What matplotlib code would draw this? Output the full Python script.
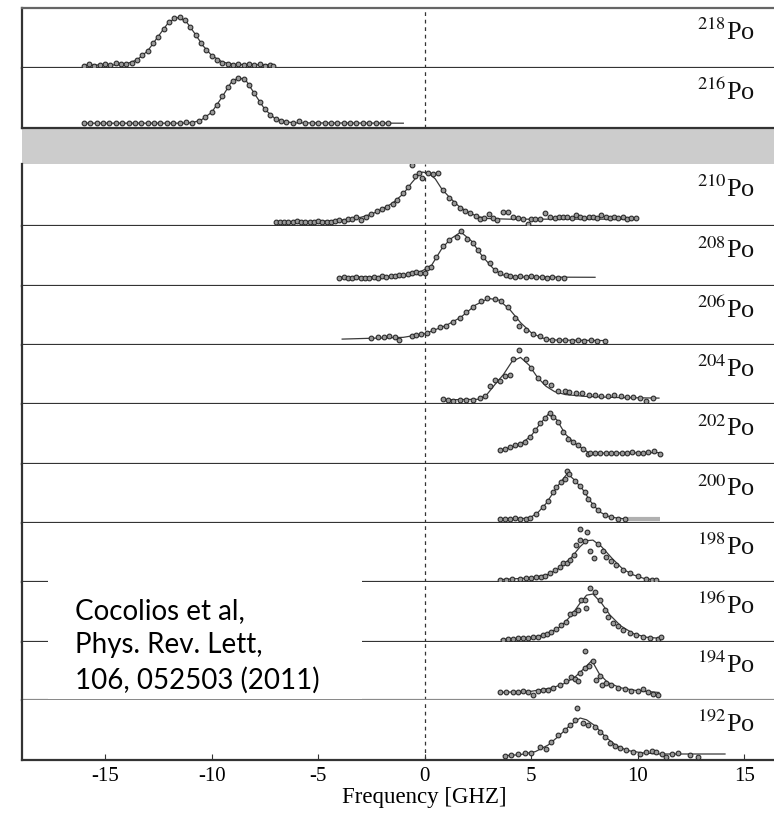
import matplotlib
matplotlib.use("Agg")
import matplotlib.pyplot as plt
from matplotlib.patches import Rectangle

plt.rcParams["font.family"] = ["Liberation Serif", "DejaVu Serif"]
plt.rcParams["mathtext.fontset"] = "stix"

# --- data (x in GHz, y as fraction of panel height) ---
isotopes = ["218", "216", "210", "208", "206", "204", "202", "200", "198", "196", "194", "192"]

po218_x = [-16.0, -15.75, -15.5, -15.25, -15.0, -14.75, -14.5, -14.25, -14.0, -13.75,
           -13.5, -13.25, -13.0, -12.75, -12.5, -12.25, -12.0, -11.75, -11.5, -11.25,
           -11.0, -10.75, -10.5, -10.25, -10.0, -9.75, -9.5, -9.25, -9.0, -8.75,
           -8.5, -8.25, -8.0, -7.75, -7.5, -7.25, -7.1]
po218_y = [0.04, 0.06, 0.04, 0.05, 0.07, 0.05, 0.08, 0.06, 0.07, 0.09,
           0.14, 0.21, 0.28, 0.41, 0.52, 0.65, 0.76, 0.83, 0.85, 0.80,
           0.69, 0.55, 0.42, 0.30, 0.20, 0.14, 0.09, 0.06, 0.05, 0.07,
           0.05, 0.06, 0.05, 0.07, 0.04, 0.05, 0.03]
po218_fit_x = [-16.0, -14.5, -14.0, -13.5, -13.0, -12.5, -12.0, -11.6, -11.2, -10.8, -10.4, -10.0, -9.5, -9.0, -7.1]
po218_fit_y = [0.05, 0.05, 0.07, 0.135, 0.285, 0.53, 0.77, 0.84, 0.78, 0.58, 0.37, 0.21, 0.10, 0.06, 0.05]

po216_x = [-16.0, -15.7, -15.4, -15.1, -14.8, -14.5, -14.2, -13.9, -13.6, -13.3,
           -13.0, -12.7, -12.4, -12.1, -11.8, -11.5, -11.2, -10.9, -10.6, -10.3,
           -10.0, -9.75, -9.5, -9.25, -9.0, -8.75, -8.5, -8.25, -8.0, -7.75,
           -7.5, -7.25, -7.0, -6.75, -6.5, -6.2, -5.9, -5.6, -5.3, -5.0,
           -4.7, -4.4, -4.1, -3.8, -3.5, -3.2, -2.9, -2.6, -2.3, -2.0, -1.7]
po216_y = [0.08, 0.08, 0.08, 0.08, 0.08, 0.08, 0.09, 0.08, 0.09, 0.09,
           0.08, 0.09, 0.09, 0.08, 0.09, 0.08, 0.10, 0.09, 0.11, 0.18,
           0.26, 0.38, 0.53, 0.68, 0.79, 0.84, 0.81, 0.71, 0.58, 0.44,
           0.31, 0.22, 0.15, 0.12, 0.10, 0.09, 0.11, 0.09, 0.08, 0.09,
           0.08, 0.08, 0.09, 0.08, 0.08, 0.09, 0.08, 0.08, 0.08, 0.08, 0.08]
po216_fit_x = [-16.0, -11.5, -10.9, -10.5, -10.0, -9.5, -9.1, -8.75, -8.4, -8.0, -7.5, -7.0, -6.5, -6.0, -1.0]
po216_fit_y = [0.08, 0.08, 0.09, 0.13, 0.26, 0.52, 0.75, 0.84, 0.80, 0.58, 0.31, 0.15, 0.10, 0.085, 0.08]

po210_x = [-7.0, -6.8, -6.6, -6.4, -6.2, -6.0, -5.8, -5.6, -5.4, -5.2,
           -5.0, -4.8, -4.6, -4.4, -4.2, -4.0, -3.8, -3.6, -3.4, -3.2,
           -3.0, -2.75, -2.5, -2.25, -2.0, -1.75, -1.5, -1.3, -1.0, -0.8,
           -0.6, -0.45, -0.25, -0.1, 0.15, 0.4, 0.65, 0.85, 1.15, 1.4,
           1.65, 1.9, 2.15, 2.4, 2.6, 2.8, 3.0, 3.2, 3.4, 3.7,
           3.9, 4.15, 4.4, 4.6, 4.85, 5.0, 5.2, 5.4, 5.65, 5.9,
           6.1, 6.3, 6.5, 6.7, 6.9, 7.1, 7.3, 7.5, 7.7, 7.9,
           8.1, 8.3, 8.5, 8.7, 8.9, 9.1, 9.3, 9.5, 9.7, 9.9]
po210_y = [0.07, 0.07, 0.07, 0.07, 0.07, 0.08, 0.07, 0.07, 0.07, 0.07,
           0.08, 0.07, 0.07, 0.07, 0.08, 0.09, 0.08, 0.11, 0.12, 0.14,
           0.09, 0.15, 0.19, 0.24, 0.28, 0.31, 0.36, 0.42, 0.53, 0.63,
           0.98, 0.80, 0.85, 0.77, 0.85, 0.84, 0.85, 0.58, 0.45, 0.37,
           0.29, 0.25, 0.21, 0.16, 0.12, 0.13, 0.20, 0.13, 0.10, 0.23,
           0.23, 0.14, 0.13, 0.12, 0.04, 0.12, 0.12, 0.11, 0.21, 0.14,
           0.13, 0.14, 0.15, 0.15, 0.13, 0.17, 0.14, 0.13, 0.14, 0.15,
           0.13, 0.17, 0.14, 0.13, 0.14, 0.13, 0.14, 0.12, 0.13, 0.13]
po210_fit_x = [-7.0, -5.0, -4.0, -3.5, -3.0, -2.5, -2.0, -1.5, -1.0, -0.6, -0.3,
               -0.1, 0.2, 0.5, 0.8, 1.2, 1.6, 2.0, 2.5, 3.0, 4.0, 10.0]
po210_fit_y = [0.07, 0.075, 0.09, 0.11, 0.14, 0.19, 0.27, 0.37, 0.52, 0.70, 0.82,
               0.87, 0.85, 0.76, 0.60, 0.45, 0.32, 0.23, 0.15, 0.12, 0.11, 0.11]

po208_x = [-4.0, -3.8, -3.6, -3.4, -3.2, -3.0, -2.8, -2.6, -2.4, -2.2,
           -2.0, -1.8, -1.6, -1.4, -1.2, -1.0, -0.8, -0.6, -0.4, -0.2,
           0.0, 0.1, 0.3, 0.55, 0.85, 1.15, 1.5, 1.72, 2.0, 2.25,
           2.5, 2.75, 3.05, 3.3, 3.55, 3.8, 4.0, 4.25, 4.5, 4.75,
           5.0, 5.25, 5.5, 5.75, 6.0, 6.25, 6.55]
po208_y = [0.14, 0.15, 0.14, 0.14, 0.15, 0.14, 0.14, 0.14, 0.15, 0.14,
           0.16, 0.15, 0.16, 0.16, 0.18, 0.18, 0.20, 0.22, 0.24, 0.22,
           0.21, 0.30, 0.32, 0.49, 0.66, 0.77, 0.82, 0.92, 0.79, 0.71,
           0.60, 0.49, 0.38, 0.27, 0.21, 0.18, 0.16, 0.15, 0.16, 0.15,
           0.16, 0.15, 0.15, 0.14, 0.15, 0.13, 0.14]
po208_fit_x = [-4.0, -1.0, -0.3, 0.3, 0.8, 1.2, 1.7, 2.2, 2.7, 3.2, 3.6, 4.2, 8.0]
po208_fit_y = [0.145, 0.16, 0.22, 0.33, 0.62, 0.78, 0.90, 0.75, 0.50, 0.30, 0.19, 0.15, 0.145]

po206_x = [-2.5, -2.2, -1.9, -1.65, -1.4, -1.2, -0.6, -0.4, -0.15, 0.1,
           0.4, 0.7, 1.0, 1.35, 1.65, 1.95, 2.25, 2.65, 2.95, 3.3,
           3.6, 3.9, 4.25, 4.45, 4.75, 5.1, 5.4, 5.7, 6.0, 6.3,
           6.6, 6.9, 7.2, 7.5, 7.8, 8.1, 8.45]
po206_y = [0.12, 0.13, 0.14, 0.16, 0.14, 0.09, 0.16, 0.17, 0.19, 0.20,
           0.25, 0.31, 0.33, 0.39, 0.45, 0.56, 0.65, 0.74, 0.79, 0.78,
           0.74, 0.65, 0.45, 0.33, 0.25, 0.19, 0.15, 0.10, 0.09, 0.08,
           0.08, 0.075, 0.08, 0.075, 0.08, 0.075, 0.07]
po206_fit_x = [-3.87, -1.0, 0.0, 1.0, 1.7, 2.4, 3.0, 3.5, 4.0, 4.5, 5.0, 5.5, 6.0, 8.45]
po206_fit_y = [0.10, 0.13, 0.19, 0.33, 0.47, 0.68, 0.79, 0.76, 0.60, 0.38, 0.21, 0.12, 0.085, 0.075]

po204_x = [0.86, 1.1, 1.33, 1.64, 1.96, 2.27, 2.58, 2.82, 3.05, 3.29,
           3.52, 3.76, 4.0, 4.15, 4.43, 4.77, 5.0, 5.32, 5.63, 5.95,
           6.26, 6.57, 6.8, 7.1, 7.4, 7.7, 8.0, 8.3, 8.6, 8.9,
           9.2, 9.5, 9.8, 10.1, 10.4, 10.72]
po204_y = [0.085, 0.06, 0.05, 0.07, 0.06, 0.07, 0.10, 0.13, 0.30, 0.41,
           0.39, 0.47, 0.49, 0.76, 0.92, 0.76, 0.61, 0.44, 0.38, 0.33,
           0.22, 0.22, 0.21, 0.19, 0.18, 0.16, 0.15, 0.14, 0.14, 0.15,
           0.13, 0.12, 0.12, 0.10, 0.05, 0.10]
po204_fit_x = [0.86, 2.5, 2.9, 3.3, 3.7, 4.1, 4.5, 4.9, 5.3, 5.7, 6.1, 6.6, 7.5, 9.0, 11.0]
po204_fit_y = [0.07, 0.08, 0.15, 0.33, 0.50, 0.72, 0.79, 0.66, 0.45, 0.30, 0.21, 0.16, 0.13, 0.11, 0.10]

po202_x = [3.52, 3.76, 3.99, 4.23, 4.46, 4.69, 4.93, 5.16, 5.4, 5.63,
           5.87, 6.03, 6.26, 6.5, 6.73, 6.97, 7.2, 7.43, 7.67, 7.75,
           8.0, 8.25, 8.5, 8.75, 9.0, 9.25, 9.5, 9.75, 10.0, 10.25,
           10.5, 10.75, 11.03]
po202_y = [0.24, 0.25, 0.28, 0.31, 0.34, 0.37, 0.45, 0.56, 0.68, 0.76,
           0.85, 0.79, 0.70, 0.54, 0.42, 0.37, 0.31, 0.25, 0.17, 0.18,
           0.19, 0.19, 0.18, 0.19, 0.19, 0.18, 0.19, 0.20, 0.19, 0.19,
           0.20, 0.21, 0.17]
po202_fit_x = [3.5, 4.0, 4.5, 5.0, 5.4, 5.8, 6.2, 6.6, 7.0, 7.4, 7.7, 8.0, 11.0]
po202_fit_y = [0.23, 0.27, 0.33, 0.47, 0.66, 0.83, 0.74, 0.50, 0.36, 0.26, 0.19, 0.18, 0.19]

po200_x = [3.52, 3.75, 4.0, 4.25, 4.5, 4.75, 4.93, 5.24, 5.56, 5.79,
           6.03, 6.18, 6.42, 6.57, 6.68, 6.8, 7.04, 7.28, 7.51, 7.67,
           7.9, 8.14, 8.45, 8.77, 9.08, 9.39]
po200_y = [0.075, 0.075, 0.07, 0.08, 0.075, 0.07, 0.08, 0.16, 0.27, 0.38,
           0.53, 0.61, 0.69, 0.74, 0.88, 0.83, 0.72, 0.62, 0.53, 0.41,
           0.30, 0.22, 0.13, 0.10, 0.075, 0.06]
po200_fit_x = [3.5, 4.9, 5.3, 5.7, 6.1, 6.4, 6.7, 7.0, 7.4, 7.8, 8.2, 8.7, 9.4]
po200_fit_y = [0.07, 0.08, 0.17, 0.33, 0.55, 0.70, 0.84, 0.74, 0.58, 0.36, 0.19, 0.10, 0.07]
po200_tail_x = [9.45, 11.05]
po200_tail_y = [0.07, 0.07]

po198_x = [3.52, 3.8, 4.1, 4.46, 4.77, 5.0, 5.24, 5.45, 5.63, 5.87,
           6.1, 6.34, 6.5, 6.68, 6.84, 7.0, 7.12, 7.28, 7.31, 7.55,
           7.62, 7.78, 7.93, 8.14, 8.37, 8.53, 8.77, 9.0, 9.31, 9.62,
           10.02, 10.4, 10.65, 10.88]
po198_y = [0.04, 0.04, 0.05, 0.05, 0.07, 0.07, 0.08, 0.09, 0.11, 0.15,
           0.21, 0.26, 0.32, 0.33, 0.37, 0.45, 0.63, 0.72, 0.90, 0.70,
           0.84, 0.52, 0.41, 0.65, 0.52, 0.43, 0.35, 0.28, 0.21, 0.15,
           0.095, 0.05, 0.04, 0.03]
po198_fit_x = [3.5, 5.0, 5.8, 6.4, 6.9, 7.3, 7.6, 7.9, 8.3, 8.8, 9.3, 9.8, 10.3, 10.9]
po198_fit_y = [0.04, 0.07, 0.13, 0.25, 0.42, 0.60, 0.70, 0.71, 0.60, 0.40, 0.22, 0.12, 0.06, 0.03]

po196_x = [3.68, 3.9, 4.15, 4.4, 4.62, 4.85, 5.09, 5.3, 5.56, 5.75,
           5.95, 6.18, 6.42, 6.62, 6.81, 7.0, 7.2, 7.36, 7.55, 7.59,
           7.75, 7.98, 8.22, 8.45, 8.61, 8.84, 9.08, 9.31, 9.62, 9.94,
           10.25, 10.57, 10.96, 11.1]
po196_y = [0.04, 0.05, 0.055, 0.06, 0.07, 0.07, 0.08, 0.09, 0.11, 0.13,
           0.17, 0.22, 0.28, 0.34, 0.47, 0.49, 0.54, 0.70, 0.70, 0.56,
           0.90, 0.84, 0.70, 0.53, 0.42, 0.31, 0.26, 0.20, 0.15, 0.11,
           0.08, 0.07, 0.055, 0.08]
po196_fit_x = [3.6, 5.0, 5.8, 6.4, 6.9, 7.3, 7.6, 7.9, 8.3, 8.7, 9.2, 9.8, 10.4, 11.1]
po196_fit_y = [0.04, 0.07, 0.14, 0.26, 0.45, 0.65, 0.78, 0.80, 0.65, 0.45, 0.27, 0.14, 0.08, 0.06]

po194_x = [3.52, 3.8, 4.15, 4.4, 4.62, 4.85, 5.09, 5.3, 5.56, 5.8,
           6.03, 6.34, 6.65, 6.88, 7.04, 7.2, 7.28, 7.51, 7.55, 7.71,
           7.9, 8.06, 8.22, 8.34, 8.53, 8.77, 9.08, 9.39, 9.7, 10.02,
           10.25, 10.49, 10.72, 10.96]
po194_y = [0.13, 0.14, 0.14, 0.13, 0.15, 0.14, 0.09, 0.15, 0.17, 0.18,
           0.21, 0.26, 0.32, 0.40, 0.37, 0.33, 0.46, 0.85, 0.55, 0.58,
           0.68, 0.35, 0.42, 0.26, 0.29, 0.25, 0.21, 0.19, 0.15, 0.15,
           0.19, 0.14, 0.11, 0.09]
po194_fit_x = [3.5, 5.0, 6.0, 6.6, 7.1, 7.5, 7.85, 8.2, 8.6, 9.2, 10.0, 11.0]
po194_fit_y = [0.13, 0.15, 0.21, 0.29, 0.41, 0.55, 0.68, 0.45, 0.30, 0.21, 0.16, 0.13]

po192_x = [3.76, 4.07, 4.38, 4.69, 5.0, 5.4, 5.71, 5.95, 6.26, 6.57,
           6.81, 7.04, 7.16, 7.43, 7.67, 7.98, 8.22, 8.45, 8.69, 8.92,
           9.16, 9.47, 9.78, 10.1, 10.4, 10.65, 10.88, 11.12, 11.35, 11.6,
           11.9, 12.44, 12.83]
po192_y = [0.07, 0.09, 0.10, 0.12, 0.12, 0.21, 0.19, 0.30, 0.41, 0.50,
           0.59, 0.66, 0.87, 0.61, 0.59, 0.55, 0.47, 0.38, 0.28, 0.24,
           0.20, 0.16, 0.13, 0.10, 0.13, 0.15, 0.13, 0.10, 0.045, 0.10,
           0.11, 0.09, 0.045]
po192_fit_x = [3.7, 4.5, 5.2, 5.8, 6.3, 6.8, 7.3, 7.6, 8.0, 8.5, 9.0, 9.5, 10.2, 11.0, 14.1]
po192_fit_y = [0.07, 0.09, 0.14, 0.25, 0.40, 0.57, 0.70, 0.67, 0.57, 0.38, 0.24, 0.16, 0.12, 0.10, 0.10]

x_ticks = [-15, -10, -5, 0, 5, 10, 15]
x_tick_labels = ["-15", "-10", "-5", "0", "5", "10", "15"]
citation = ["Cocolios et al,", "Phys. Rev. Lett,", "106, 052503 (2011)"]

panels = [
    (po218_x, po218_y, po218_fit_x, po218_fit_y),
    (po216_x, po216_y, po216_fit_x, po216_fit_y),
    (po210_x, po210_y, po210_fit_x, po210_fit_y),
    (po208_x, po208_y, po208_fit_x, po208_fit_y),
    (po206_x, po206_y, po206_fit_x, po206_fit_y),
    (po204_x, po204_y, po204_fit_x, po204_fit_y),
    (po202_x, po202_y, po202_fit_x, po202_fit_y),
    (po200_x, po200_y, po200_fit_x, po200_fit_y),
    (po198_x, po198_y, po198_fit_x, po198_fit_y),
    (po196_x, po196_y, po196_fit_x, po196_fit_y),
    (po194_x, po194_y, po194_fit_x, po194_fit_y),
    (po192_x, po192_y, po192_fit_x, po192_fit_y),
]

# --- layout (pixel geometry of the original figure) ---
W, H = 774, 818
XLIM = (-18.9, 16.4)
LINE_C = "#333333"

fig = plt.figure(figsize=(W / 100, H / 100), dpi=100)
ratios = [60, 60, 36, 62, 60, 59, 59, 60, 59, 59, 60, 58, 60]
gs = fig.add_gridspec(13, 1, height_ratios=ratios, hspace=0,
                      left=22 / W, right=1.0, top=1 - 8 / H, bottom=1 - 760 / H)

# grey band separating the heavy isotopes
gap_ax = fig.add_subplot(gs[2])
gap_ax.set_facecolor("#cccccc")
gap_ax.set_xticks([])
gap_ax.set_yticks([])
for s in gap_ax.spines.values():
    s.set_visible(False)

rows = [0, 1, 3, 4, 5, 6, 7, 8, 9, 10, 11, 12]
axes = []
for i, (row, label, (px, py, fx, fy)) in enumerate(zip(rows, isotopes, panels)):
    ax = fig.add_subplot(gs[row])
    axes.append(ax)
    ax.set_xlim(*XLIM)
    ax.set_ylim(0, 1)
    ax.set_yticks([])
    ax.spines["right"].set_visible(False)
    ax.spines["top"].set_visible(i == 0)
    for s in ("left", "bottom", "top"):
        ax.spines[s].set_color(LINE_C)
        ax.spines[s].set_linewidth(1.6)
    ax.spines["top"].set_color("#666666")
    if label == "194":
        ax.spines["bottom"].set_color("#8a8a8a")

    ax.axvline(0, color="#333333", lw=0.9, ls=(0, (3, 3)), zorder=1)
    ax.plot(fx, fy, color="#3a3a3a", lw=0.9, zorder=2)
    if label == "200":
        ax.plot(po200_tail_x, po200_tail_y, color="#b0b0b0", lw=3, zorder=2,
                solid_capstyle="butt")
    ax.plot(px, py, ls="none", marker="o", ms=3.4, mfc="#9a9a9a",
            mec="#2a2a2a", mew=0.8, zorder=3)

    ax.text(15.5, 0.46, r"$^{%s}$Po" % label, ha="right", va="baseline",
            fontsize=19, color="#111111")

    if i < len(panels) - 1:
        ax.tick_params(axis="x", bottom=False, labelbottom=False)

bottom_ax = axes[-1]
bottom_ax.set_xticks(x_ticks)
bottom_ax.set_xticklabels(x_tick_labels)
bottom_ax.tick_params(axis="x", direction="in", length=4, width=0.8,
                      color=LINE_C, labelsize=15, pad=5)
bottom_ax.set_xlabel("Frequency [GHZ]", fontsize=16.5)
# label is centred under x = 0 (the original axis runs past the crop)
bottom_ax.xaxis.set_label_coords((0 - XLIM[0]) / (XLIM[1] - XLIM[0]), -0.45)

# citation box pasted over the lower-left panels
fig.add_artist(Rectangle((48 / W, 1 - 699 / H), 314 / W, 120 / H,
                         transform=fig.transFigure, facecolor="white",
                         edgecolor="none", zorder=5))
for line, y_px in zip(citation, [611, 645, 680]):
    fig.text(75 / W, 1 - y_px / H, line, family=["Lato", "DejaVu Sans"],
             fontsize=20, va="center", ha="left", zorder=6)

fig.savefig("out.png", dpi=100)
